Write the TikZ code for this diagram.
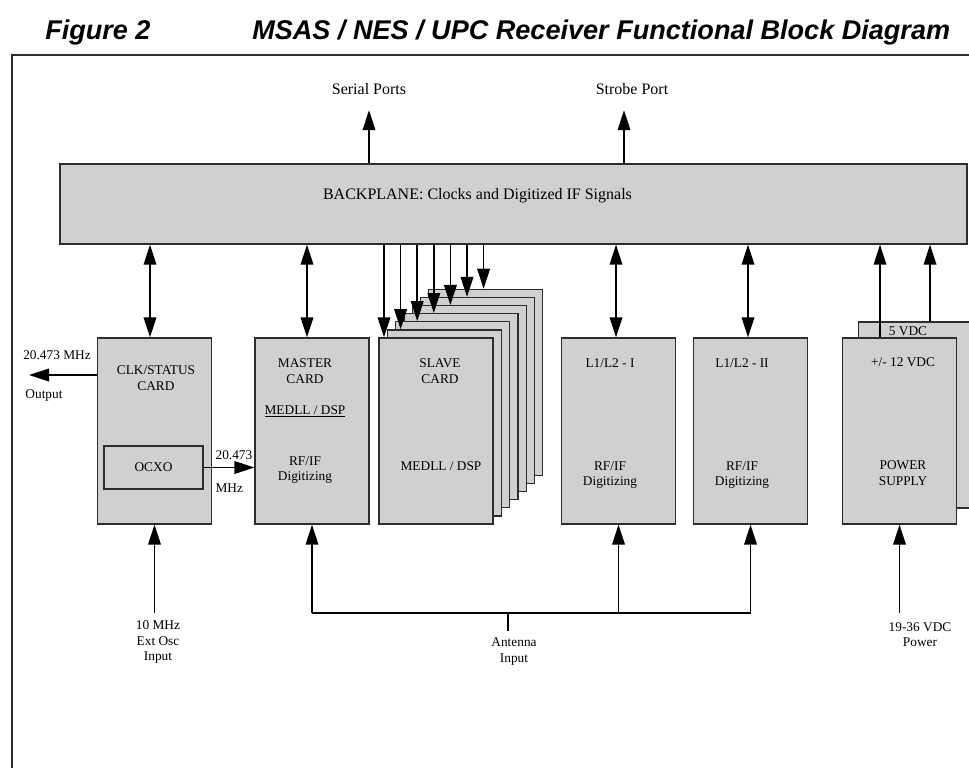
\documentclass[tikz,border=0pt]{standalone}
\usepackage{fontspec}
\setmainfont{Liberation Serif}
\newfontfamily\titlefont{Liberation Sans}
\usetikzlibrary{positioning,calc,arrows.meta}

\definecolor{boxgray}{RGB}{208,208,208}
\definecolor{boxline}{RGB}{45,45,45}

\tikzset{
  card/.style={draw=boxline,fill=boxgray,line width=1pt,inner sep=0pt,
               minimum width=85.5pt,minimum height=139.5pt},
  card text/.style={align=center,inner sep=1pt,font=\fontsize{10}{11.5}\selectfont},
  small label/.style={align=center,inner sep=1pt,font=\fontsize{10}{11.5}\selectfont},
  port label/.style={inner sep=1pt,font=\fontsize{12}{14}\selectfont},
  arr/.style={line width=1.1pt,-{Triangle[width=9.5pt,length=15pt]}},
  biarr/.style={line width=1.1pt,{Triangle[width=9.5pt,length=15pt]}-{Triangle[width=9.5pt,length=15pt]}},
  wire/.style={line width=1.1pt}
}

\begin{document}
\begin{tikzpicture}[x=0.75pt,y=-0.75pt]
   \useasboundingbox (0,0) rectangle (969,767);
   % title
   \node[anchor=base west,inner sep=0pt,font=\titlefont\bfseries\itshape\fontsize{20.3}{24}\selectfont]
        (fig) at (45,40) {Figure 2};
   \node[anchor=base west,inner sep=0pt,font=\titlefont\bfseries\itshape\fontsize{20.3}{24}\selectfont]
        (ttl) at (252,40) {MSAS / NES / UPC Receiver Functional Block Diagram};
   \draw[line width=1.2pt,boxline] (12,790) -- (12,55) -- (990,55);

   % backplane
   \node[draw=boxline,fill=boxgray,line width=1pt,inner sep=0pt,
         minimum width=680.25pt,minimum height=60pt] (bp) at (513.5,204) {};
   \node[port label] (bptext) at (477.5,196) {BACKPLANE: Clocks and Digitized IF Signals};
   \node[port label] (serial) at (369,89) {Serial Ports};
   \node[port label] (strobe) at (632,89) {Strobe Port};
   \draw[arr] (bp.north -| serial) -- ($(serial.south)+(0,14)$);
   \draw[arr] (bp.north -| 624,0) -- ($(strobe.south -| 624,0)+(0,14)$);

   % labels under the cards
   \node[small label] (mhzout) at (57,355) {20.473 MHz};
   \node[small label] (output) at (44,395) {Output};
   \node[small label,anchor=west] (mhzin) at (214,455) {20.473};
   \node[small label,anchor=west] (mhzunit) at (214,488) {MHz};

   % cards
   \node[card] (clk) at (154.5,431) {};
   \node[card] (master) at (312,431) {};
   \foreach \i in {6,...,0}
     \node[card] (slave\i) at ({436+8.3*\i},{431-8.1*\i}) {};
   \node[card] (l1) at (618.5,431) {};
   \node[card] (l2) at (750.5,431) {};
   \node[card] (pwrback) at (915.5,415) {};
   \node[card] (pwr) at (899.5,431) {};

   \node[draw=boxline,line width=1pt,minimum width=74.25pt,minimum height=32.25pt,
         inner sep=0pt,card text] (ocxo) at (153.5,467.5) {OCXO};

   % card texts
   \node[card text] (clkname) at (156,378) {CLK/STATUS\\CARD};
   \node[card text] (mastername) at (305,371) {MASTER\\CARD};
   \node[card text] (masterdsp) at (305,411) {\underline{MEDLL / DSP}};
   \node[card text] (masterrf) at (305,470) {RF/IF\\Digitizing};
   \node[card text] (slavename) at (440,371) {SLAVE\\CARD};
   \node[card text] (slavedsp) at (441,466) {MEDLL / DSP};
   \node[card text] (l1name) at (610,363) {L1/L2 - I};
   \node[card text] (l1rf) at (610,475) {RF/IF\\Digitizing};
   \node[card text] (l2name) at (742,363) {L1/L2 - II};
   \node[card text] (l2rf) at (742,475) {RF/IF\\Digitizing};
   \node[card text] (pwr5) at (908,331) {5 VDC};
   \node[card text] (pwr12) at (903,362) {+/- 12 VDC};
   \node[card text] (pwrname) at (903,473) {POWER\\SUPPLY};

   % backplane links
   \draw[biarr] (bp.south -| 150,0) -- (clk.north -| 150,0);
   \draw[biarr] (bp.south -| 307,0) -- (master.north -| 307,0);
   \foreach \i in {0,...,6}{
     \coordinate (sx\i) at ({384+16.6*\i},0);
     \draw[arr] (sx\i |- bp.south) -- (sx\i |- slave\i.north);
   }
   \draw[biarr] (bp.south -| 616,0) -- (l1.north -| 616,0);
   \draw[biarr] (bp.south -| 748,0) -- (l2.north -| 748,0);
   \draw[arr] (pwr.north -| 880,0) -- (bp.south -| 880,0);
   \draw[arr] (pwrback.north -| 930,0) -- (bp.south -| 930,0);

   % clock signals
   \coordinate (outtip) at (29,375);
   \draw[arr] (outtip -| clk.west) -- (outtip);
   \draw[arr] (ocxo.east) -- (ocxo.east -| master.west);

   % inputs
   \node[small label] (oscin) at (158,642) {10 MHz\\Ext Osc\\Input};
   \node[small label] (antin) at (514,651.5) {Antenna\\Input};
   \node[small label] (pwrin) at (920,634.5) {19-36 VDC\\Power};
   \coordinate (antbus) at (508,613);
   \coordinate (antstem) at (508,631);

   \draw[arr] (clk.south |- antbus) -- (clk.south);
   \draw[wire] (master.south |- antbus) -- (l2.south |- antbus);
   \draw[wire] (antstem) -- (antbus);
   \draw[arr] (master.south |- antbus) -- (master.south);
   \draw[arr] (l1.south |- antbus) -- (l1.south);
   \draw[arr] (l2.south |- antbus) -- (l2.south);
   \draw[arr] (pwr.south |- antbus) -- (pwr.south);
 \end{tikzpicture}
\end{document}
